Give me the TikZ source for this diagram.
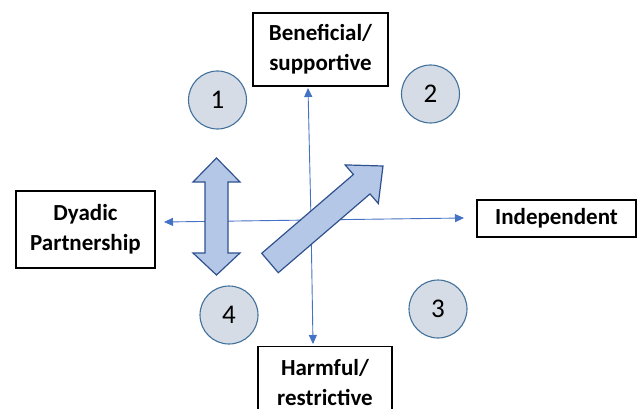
\documentclass[tikz,border=0pt]{standalone}
\usepackage{fontspec}
\setmainfont{Carlito}
\usetikzlibrary{arrows.meta}
\definecolor{circfill}{HTML}{D6DCE5}
\definecolor{circdraw}{HTML}{41719C}
\definecolor{blkfill}{HTML}{B4C7E7}
\definecolor{blkdraw}{HTML}{2F528F}
\definecolor{axis}{HTML}{4472C4}
\tikzset{
  labelbox/.style={draw=black, line width=1.3pt, fill=white, align=center,
    font=\fontsize{23}{30}\selectfont\bfseries, inner sep=0pt},
  numcirc/.style={circle, draw=circdraw, line width=1.1pt, fill=circfill,
    minimum size=58pt, inner sep=0pt, font=\fontsize{27}{30}\selectfont},
  axisline/.style={draw=axis, line width=0.9pt, -{Triangle[length=9pt,width=8pt]}},
  blockarrow/.style={draw=blkdraw, line width=1.2pt, fill=blkfill, line join=miter}
}
\begin{document}
\begin{tikzpicture}[x=1pt,y=-1pt]
\useasboundingbox (0,0) rectangle (637,409);
% boxes
\node[labelbox, minimum width=135pt, minimum height=73pt] (ben) at (320.5,49.5) {Beneficial/\\supportive};
\node[labelbox, minimum width=134pt, minimum height=73pt] (harm) at (325,383) {Harmful/\\restrictive};
\node[labelbox, minimum width=139pt, minimum height=77pt] (dya) at (85.5,229.5) {Dyadic\\Partnership};
\node[labelbox, minimum width=159pt, minimum height=37pt] (ind) at (556.5,218.5) {Independent};
% circles
\node[numcirc] (c1) at (217.5,100) {1};
\node[numcirc] (c2) at (430.5,94) {2};
\node[numcirc] (c3) at (438,309) {3};
\node[numcirc] (c4) at (229,315) {4};
% axes
\coordinate (vtop) at (308,88);
\coordinate (vbot) at (313,344);
\coordinate (hl) at (164,222);
\coordinate (hr) at (464,218);
\coordinate (mid) at (311,220);
\draw[axisline] (mid) -- (vtop);
\draw[axisline] (mid) -- (vbot);
\draw[axisline] (mid) -- (hl);
\draw[axisline] (mid) -- (hr);
% vertical double block arrow
\draw[blockarrow] (216.5,158) -- (240,182) -- (228,182) -- (228,253) -- (240,253)
  -- (216.5,275) -- (193,253) -- (205,253) -- (205,182) -- (193,182) -- cycle;
% diagonal block arrow
\draw[blockarrow] (261.7,253.3) -- (353.4,174.5) -- (345.1,164.9) -- (383,166)
  -- (378.3,203.5) -- (370,193.9) -- (278.3,272.7) -- cycle;
\end{tikzpicture}
\end{document}
